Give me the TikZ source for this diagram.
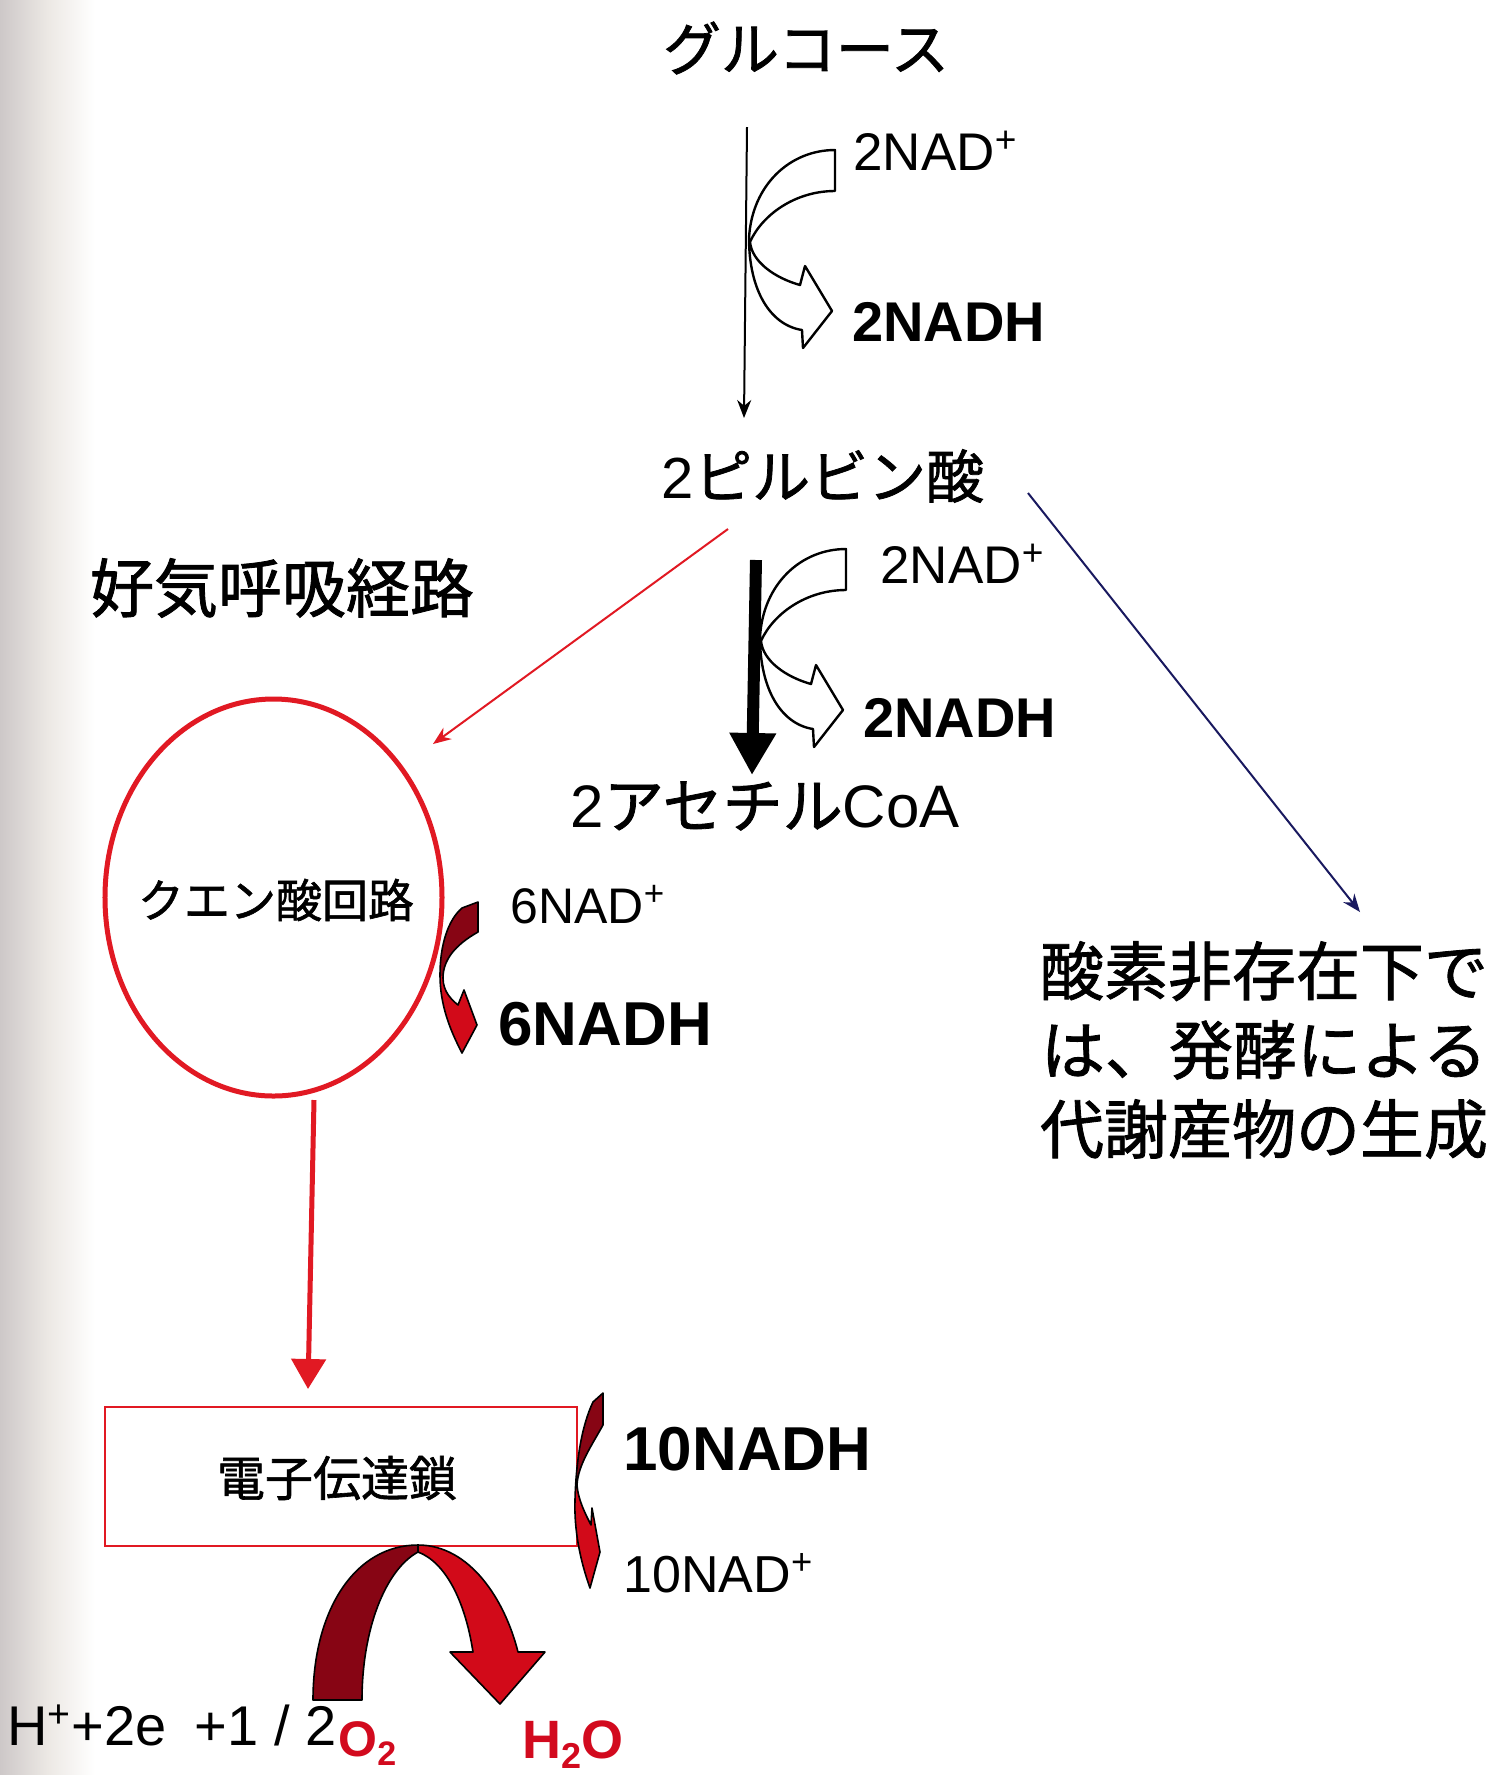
\documentclass[tikz,border=0pt]{standalone}
\usepackage{fontspec}
\setmainfont{Liberation Sans}
\newfontfamily\jpfont{Noto Sans CJK JP}[FakeBold=1.3]
\usetikzlibrary{shapes.geometric,arrows.meta}
\definecolor{redline}{RGB}{225,25,35}
\definecolor{arrdark}{RGB}{135,5,20}
\definecolor{arrbright}{RGB}{210,10,25}
\definecolor{navy}{RGB}{25,25,95}
\definecolor{textred}{RGB}{210,10,30}
\definecolor{stripgray}{RGB}{205,200,200}
\definecolor{stripcream}{RGB}{236,232,228}
\tikzset{
  lbl/.style={inner sep=0pt, anchor=base west, font=\fontsize{#1bp}{#1bp}\selectfont},
  lblb/.style={inner sep=0pt, anchor=base west, font=\fontsize{#1bp}{#1bp}\selectfont\bfseries},
  jptext/.style={inner sep=0pt, font=\fontsize{#1bp}{#1bp}\selectfont\jpfont},
  hollow/.style={draw=black, fill=white, line width=1.2bp, line join=round},
  outl/.style={draw=black, line width=0.8bp, line join=round},
  thinarrow/.style={line width=1bp, -{Stealth[length=9bp,width=7bp]}},
}
\newcommand\latn{\fontspec{Liberation Sans}}
\begin{document}
\begin{tikzpicture}[x=0.5bp,y=-0.5bp]
% canvas
\fill[white] (0,0) rectangle (1498,1775);
\shade[left color=stripgray, right color=white, middle color=stripcream] (0,0) rectangle (95,1775);
\useasboundingbox (0,0) rectangle (1498,1775);

% ---------- texts ----------
\node[jptext=29] (glc) at (806,48) {グルコース};
\node[jptext=29] (pyr) at (823,476) {{\latn 2}ピルビン酸};
\node[jptext=32] (aer) at (282,588) {好気呼吸経路};
\node[jptext=30] (acoa) at (765,806) {{\latn 2}アセチル{\latn CoA}};
\node[jptext=32, align=center, font=\fontsize{32bp}{39.5bp}\selectfont\jpfont] (anaer) at (1264,1050)
  {酸素非存在下で\\は、発酵による\\代謝産物の生成};

\node[lbl=26.5] (nadA) at (853,170) {2NAD\textsuperscript{+}};
\node[lblb=28] (nadhA) at (852,341) {2NADH};
\node[lbl=26.5] (nadB) at (880,583) {2NAD\textsuperscript{+}};
\node[lblb=28] (nadhB) at (863,737) {2NADH};
\node[lbl=25] (nadC) at (510,923) {6NAD\textsuperscript{+}};
\node[lblb=31] (nadhC) at (498,1045) {6NADH};
\node[lblb=31] (nadhD) at (623,1470) {10NADH};
\node[lbl=26] (nadD) at (623,1592) {10NAD\textsuperscript{+}};

\node[lbl=28] (react) at (7,1745) {H\textsuperscript{+}+2e\enspace+1 / 2};
\node[lblb=25, text=textred] (oxy) at (338,1756) {O\raisebox{-0.35ex}{\fontsize{17bp}{17bp}\selectfont 2}};
\node[lblb=27, text=textred] (water) at (522,1758) {H\raisebox{-0.35ex}{\fontsize{18bp}{18bp}\selectfont 2}O};

% ---------- boxes ----------
\node[ellipse, draw=redline, line width=2.5bp, minimum width=168.5bp, minimum height=198.5bp, inner sep=0pt] (tcaring) at (273.5,897.5) {};
\node[jptext=23] (tca) at (276,900) {クエン酸回路};
\node[draw=redline, line width=1.2bp, minimum width=236bp, minimum height=69.5bp, inner sep=0pt] (etc) at (341,1476.5) {};
\node[jptext=24] (etctext) at (337,1478) {電子伝達鎖};

% ---------- connectors ----------
\coordinate (g1) at (747,127);
\coordinate (g2) at (744,418);
\draw[thinarrow] (g1) -- (g2);

\coordinate (p1) at (756,560);
\coordinate (p2) at (752,775);
\draw[line width=6bp, -{Triangle[length=21bp,width=22bp]}] (p1) -- (p2);

\coordinate (r1) at (728,529);
\coordinate (r2) at (433,744);
\draw[thinarrow, redline] (r1) -- (r2);

\coordinate (b1) at (1028,493);
\coordinate (b2) at (1360,912);
\draw[thinarrow, navy] (b1) -- (b2);

\coordinate (v1) at (314,1100);
\coordinate (v2) at (308,1389);
\draw[line width=2.5bp, redline, -{Triangle[length=15bp,width=17bp]}] (v1) -- (v2);

% ---------- hollow curved arrows ----------
\def\hollowpath{(835,150) .. controls (790,150) and (752,185) .. (749,238)
  .. controls (749,290) and (770,325) .. (802,330) -- (803,348) -- (832,311) -- (805,266) -- (800,285)
  .. controls (775,278) and (752,262) .. (750,242) .. controls (762,215) and (795,191) .. (835,191) -- cycle}
\path[hollow] \hollowpath;
\begin{scope}[shift={(11,399)}]
\path[hollow] \hollowpath;
\end{scope}

% ---------- red curved arrow (6NADH) ----------
\def\arrsix{(462,908) -- (478,902) -- (478,932) .. controls (455,945) and (443,960) .. (443,978)
  .. controls (443,992) and (452,1000) .. (458,1005) -- (464,990) -- (477,1025) -- (462,1053)
  .. controls (450,1030) and (440,1005) .. (440,975) .. controls (440,945) and (448,920) .. (462,908) -- cycle}
\begin{scope}
\clip \arrsix;
\fill[arrdark] (420,880) rectangle (500,976);
\fill[arrbright] (420,976) rectangle (500,1070);
\end{scope}
\path[outl] \arrsix;

% ---------- red curved arrow (10NADH) ----------
\def\arrten{(593,1402) -- (603,1393) -- (603,1425) .. controls (592,1445) and (578,1465) .. (577,1485)
  .. controls (578,1500) and (586,1515) .. (591,1525) -- (592,1508) -- (600,1552) -- (590,1588)
  .. controls (580,1560) and (574,1530) .. (575,1500) .. controls (576,1460) and (582,1425) .. (593,1402) -- cycle}
\begin{scope}
\clip \arrten;
\fill[arrdark] (560,1380) rectangle (620,1487);
\fill[arrbright] (560,1487) rectangle (620,1600);
\end{scope}
\path[outl] \arrten;

% ---------- big arc arrow ----------
\path[outl, fill=arrdark] (313,1700) .. controls (313,1610) and (355,1545) .. (418,1545) -- (418,1552)
  .. controls (385,1570) and (362,1630) .. (362,1700) -- cycle;
\path[outl, fill=arrbright] (418,1545) .. controls (470,1545) and (505,1600) .. (518,1652) -- (545,1652)
  -- (500,1704) -- (450,1652) -- (473,1652) .. controls (465,1600) and (445,1562) .. (418,1552) -- cycle;
\end{tikzpicture}
\end{document}
